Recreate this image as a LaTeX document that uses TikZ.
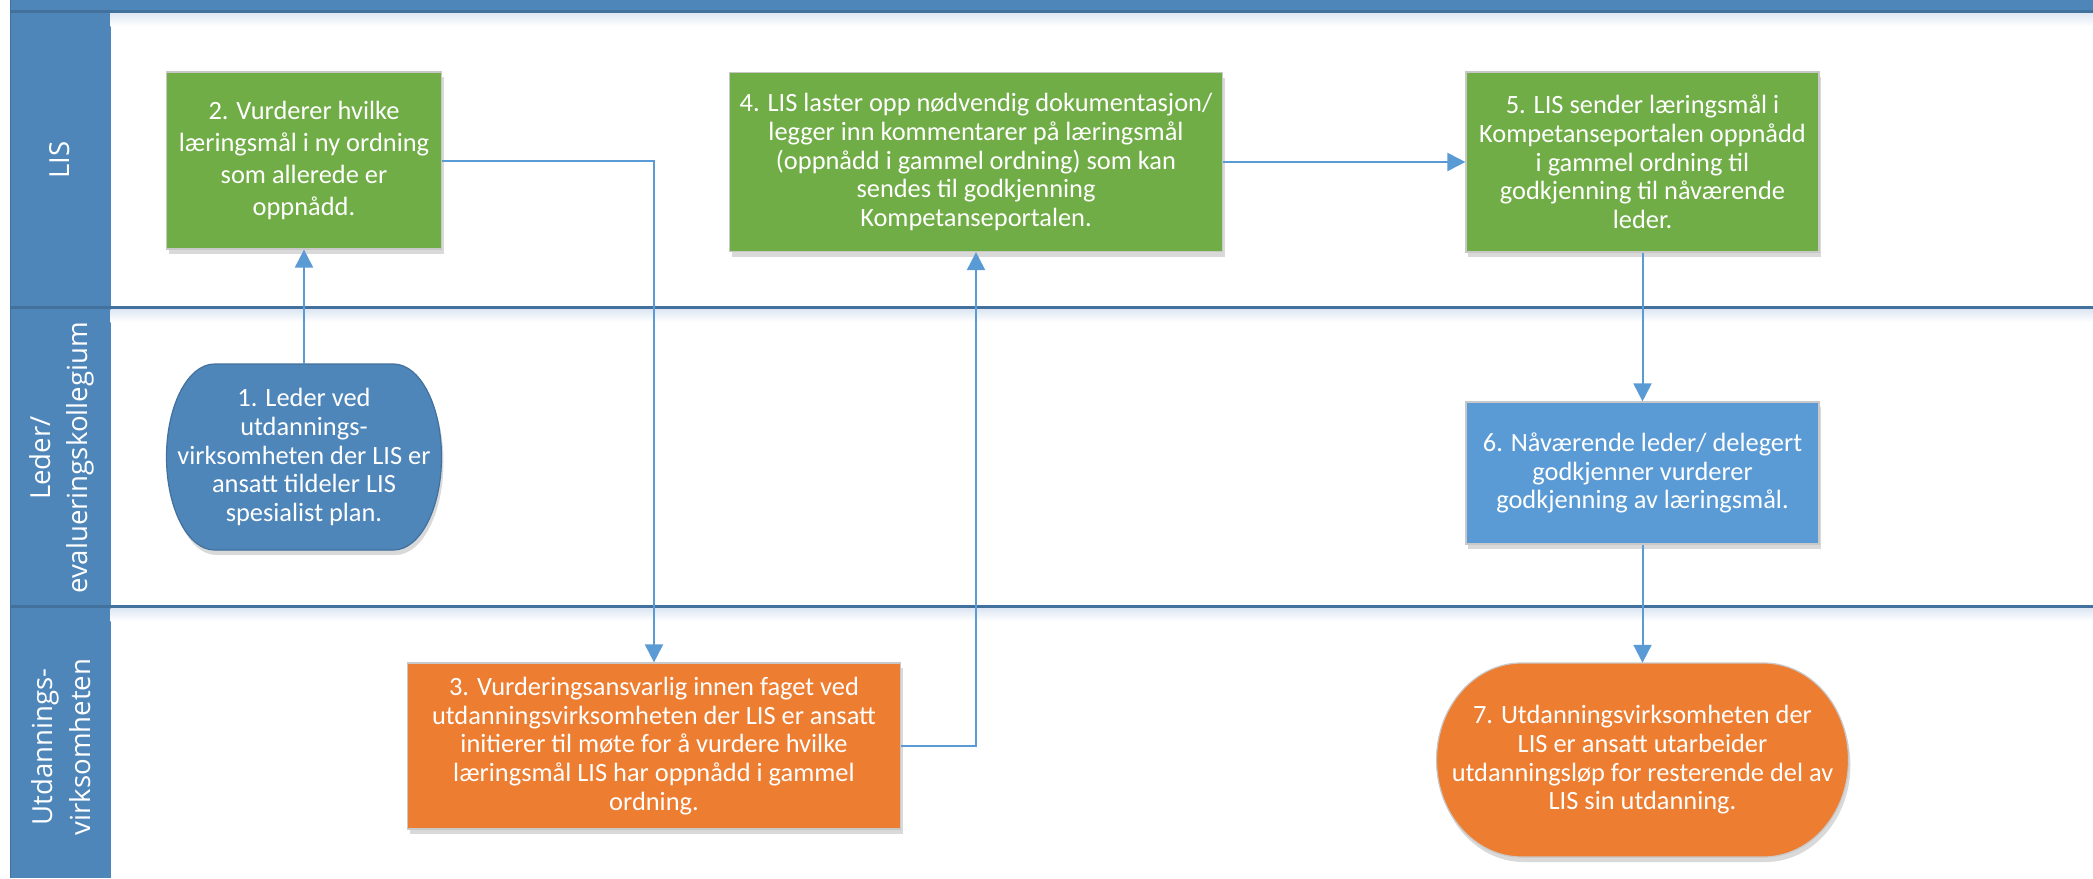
\documentclass[tikz,border=0pt]{standalone}
\usepackage{fontspec}
\setmainfont{Carlito}
\newfontfamily\lanefont{Open Sans}
\usetikzlibrary{arrows.meta,shadows}
\definecolor{laneblue}{HTML}{4E86BA}
\definecolor{lanedark}{HTML}{41719C}
\definecolor{boxgreen}{HTML}{70AD47}
\definecolor{boxorange}{HTML}{ED7D31}
\definecolor{boxblue}{HTML}{5B9BD5}
\definecolor{termblue}{HTML}{4E86BA}
\definecolor{connblue}{HTML}{5B9BD5}
\definecolor{laneshade}{HTML}{DCE6F2}
\definecolor{boxedge}{HTML}{C8C8C8}
\tikzset{
  lanelabel/.style={rotate=90, text=white, align=center, inner sep=0pt,
    font=\lanefont\fontsize{27.6}{37.5}\selectfont},
  box/.style={rectangle, draw=boxedge, line width=1.2pt, text=white, align=center,
    inner sep=0pt, font=\fontsize{26.4}{28.7}\selectfont,
    drop shadow={shadow xshift=2pt, shadow yshift=-5pt, opacity=0.15, fill=black}},
  termtext/.style={rectangle, draw=none, fill=none, text=white, align=center,
    inner sep=0pt, font=\fontsize{26.4}{28.7}\selectfont},
  termshape/.style={draw=boxedge, line width=1.2pt,
    drop shadow={shadow xshift=2pt, shadow yshift=-5pt, opacity=0.15, fill=black}},
  flow/.style={draw=connblue, line width=2pt, -{Triangle[width=18pt,length=18pt,fill=connblue]}},
  laneline/.style={draw=lanedark, line width=3pt}
}
\begin{document}
\begin{tikzpicture}[x=1pt,y=-1pt]
\useasboundingbox (0,0) rectangle (2093,878);
\fill[white] (0,0) rectangle (2093,878);
% header band and title column
\fill[laneblue] (10,0) rectangle (2093,11);
\fill[laneblue] (10,0) rectangle (110.5,878);
% soft shades under lane lines
\shade[top color=laneshade, bottom color=white] (110.5,12) rectangle (2093,26);
\shade[top color=laneshade, bottom color=white] (110.5,309) rectangle (2093,322);
\shade[top color=laneshade, bottom color=white] (110.5,608) rectangle (2093,621);
% lane lines
\draw[laneline] (10,11) -- (2093,11);
\draw[laneline] (10,307.5) -- (2093,307.5);
\draw[laneline] (10,606.5) -- (2093,606.5);
\draw[lanedark, line width=1pt] (10.5,0) -- (10.5,878);
% lane labels
\node[lanelabel] (lLIS) at (60,160) {LIS};
\node[lanelabel] (lLeder) at (62,458) {Leder/\\evalueringskollegium};
\node[lanelabel] (lUtd) at (61,747) {Utdannings-\\virksomheten};
% terminator shapes
\fill[termblue, termshape, draw=lanedark] (214.5,364) -- (393.5,364)
  arc[start angle=90, end angle=-90, x radius=48pt, y radius=93pt]
  -- (214.5,550)
  arc[start angle=270, end angle=90, x radius=48pt, y radius=93pt] -- cycle;
\fill[boxorange, termshape] (1521.5,663) -- (1763.5,663)
  arc[start angle=90, end angle=-90, x radius=85pt, y radius=97pt]
  -- (1521.5,857)
  arc[start angle=270, end angle=90, x radius=85pt, y radius=97pt] -- cycle;
% nodes
\node[termtext, minimum width=275pt, minimum height=186pt] (b1) at (304,457)
  {1. Leder ved\\utdannings-\\virksomheten der LIS er\\ansatt tildeler LIS\\spesialist plan.};
\node[box, fill=boxgreen, minimum width=275pt, minimum height=177pt,
  font=\fontsize{26.4}{31.7}\selectfont] (b2) at (304,160.5)
  {2. Vurderer hvilke\\læringsmål i ny ordning\\som allerede er\\oppnådd.};
\node[box, fill=boxorange, minimum width=493pt, minimum height=166pt] (b3) at (654,746)
  {3. Vurderingsansvarlig innen faget ved\\utdanningsvirksomheten der LIS er ansatt\\initierer til møte for å vurdere hvilke\\læringsmål LIS har oppnådd i gammel\\ordning.};
\node[box, fill=boxgreen, minimum width=493pt, minimum height=179pt] (b4) at (976,162)
  {4. LIS laster opp nødvendig dokumentasjon/\\legger inn kommentarer på læringsmål\\(oppnådd i gammel ordning) som kan\\sendes til godkjenning\\Kompetanseportalen.};
\node[box, fill=boxgreen, minimum width=353pt, minimum height=180pt] (b5) at (1642.5,162)
  {5. LIS sender læringsmål i\\Kompetanseportalen oppnådd\\i gammel ordning til\\godkjenning til nåværende\\leder.};
\node[box, fill=boxblue, minimum width=353pt, minimum height=142pt] (b6) at (1642.5,473)
  {6. Nåværende leder/ delegert\\godkjenner vurderer\\godkjenning av læringsmål.};
\node[termtext, minimum width=412pt, minimum height=194pt] (b7) at (1642.5,760)
  {7. Utdanningsvirksomheten der\\LIS er ansatt utarbeider\\utdanningsløp for resterende del av\\LIS sin utdanning.};
% connectors
\draw[flow] (b1.north) -- (b2.south);
\draw[flow] (b2.east) -| (b3.north);
\draw[flow] (b3.east) -| (b4.south);
\draw[flow] (b4.east) -- (b5.west);
\draw[flow] (b5.south) -- (b6.north);
\draw[flow] (b6.south) -- (b7.north);
\end{tikzpicture}
\end{document}
